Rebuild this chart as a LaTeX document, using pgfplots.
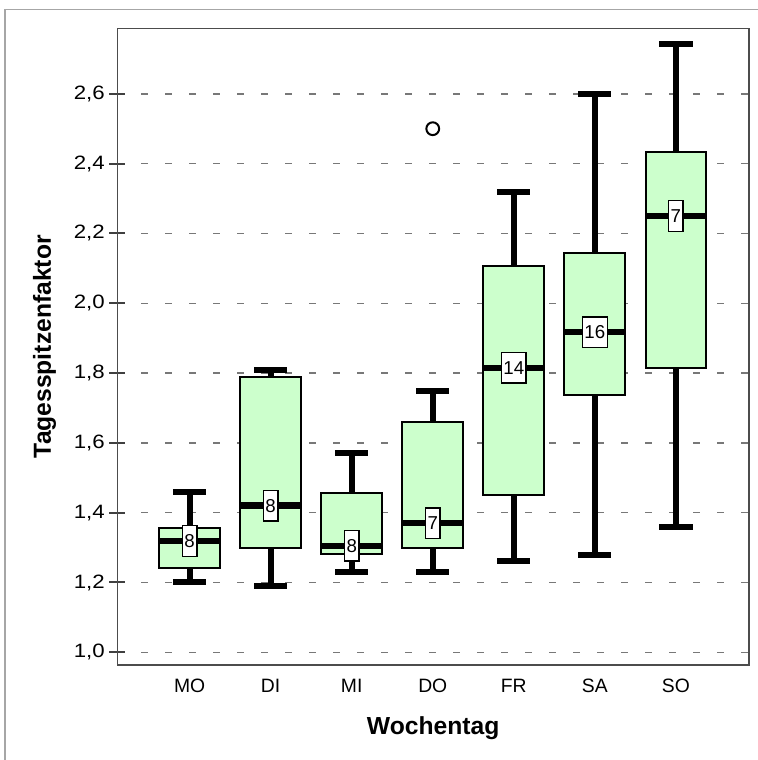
\documentclass[border=0pt]{standalone}
\usepackage{fontspec}
\setmainfont{Liberation Sans}
\newfontfamily\ytfont[FakeStretch=1.15]{Liberation Sans}
\usepackage{pgfplots}
\pgfplotsset{compat=1.18}
\usepgfplotslibrary{statistics}
\definecolor{boxgreen}{RGB}{204,255,204}
\definecolor{gridgray}{RGB}{120,120,120}
\pgfplotstableread{
x   y      n
0   1.319  8
1   1.420  8
2   1.305  8
3   1.370  7
4   1.815  14
5   1.917  16
6   2.250  7
}\counts
\begin{document}
\begin{tikzpicture}
\path[use as bounding box] (-88.1pt,-71.25pt) rectangle (480.35pt,498.8pt);
\draw[black!35, line width=1.1pt] (-84.4pt,-72pt) -- (-84.4pt,491.7pt) -- (482pt,491.7pt);
\begin{axis}[
  scale only axis, width=473.6pt, height=477.4pt,
  xmin=-0.89, xmax=6.90, ymin=0.9636, ymax=2.787,
  xtick={0,1,2,3,4,5,6}, xticklabels={MO,DI,MI,DO,FR,SA,SO},
  ytick={1,1.2,1.4,1.6,1.8,2,2.2,2.4,2.6},
  ymajorgrids,
  grid style={gridgray, line width=1.1pt, dash pattern=on 5.25pt off 12.75pt},
  axis line style={black!70, line width=1.2pt},
  ytick pos=left, tick align=center, major tick length=12pt,
  ytick style={black!75, line width=1.5pt},
  xtick style={draw=none},
  /pgf/number format/assume math mode=true,
  yticklabel style={/pgf/number format/fixed, /pgf/number format/fixed zerofill, /pgf/number format/precision=1, /pgf/number format/use comma},
  xticklabel style={font=\fontsize{14.5}{17}\selectfont},
  yticklabel style={font=\ytfont\fontsize{14.5}{17}\selectfont},
  yticklabel style={anchor=east, inner sep=0pt, xshift=-3.4pt},
  xticklabel style={anchor=base, yshift=-14.5pt},
  label style={font=\bfseries\fontsize{18.5}{22}\selectfont},
  xlabel={Wochentag}, ylabel={Tagesspitzenfaktor},
  xlabel style={at={(axis description cs:0.5,-0.1)}, anchor=center},
  ylabel style={at={(axis description cs:-0.1153,0.5)}, anchor=center},
  boxplot/draw direction=y,
  boxplot/box extend=0.75,
  boxplot/whisker extend=0.41,
  boxplot/every box/.style={draw=black, fill=boxgreen, line width=1.5pt},
  boxplot/every whisker/.style={draw=black, line width=4.5pt},
  boxplot/every median/.style={draw=black, line width=4.8pt},
]
\addplot[boxplot prepared={draw position=0, lower whisker=1.200, lower quartile=1.241, median=1.319, upper quartile=1.355, upper whisker=1.460}] coordinates {};
\addplot[boxplot prepared={draw position=1, lower whisker=1.191, lower quartile=1.300, median=1.420, upper quartile=1.788, upper whisker=1.809}] coordinates {};
\addplot[boxplot prepared={draw position=2, lower whisker=1.229, lower quartile=1.282, median=1.305, upper quartile=1.457, upper whisker=1.572}] coordinates {};
\addplot[boxplot prepared={draw position=3, lower whisker=1.231, lower quartile=1.300, median=1.370, upper quartile=1.659, upper whisker=1.750}] coordinates {};
\addplot[boxplot prepared={draw position=4, lower whisker=1.262, lower quartile=1.451, median=1.815, upper quartile=2.108, upper whisker=2.320}] coordinates {};
\addplot[boxplot prepared={draw position=5, lower whisker=1.279, lower quartile=1.737, median=1.917, upper quartile=2.143, upper whisker=2.600}] coordinates {};
\addplot[boxplot prepared={draw position=6, lower whisker=1.358, lower quartile=1.814, median=2.250, upper quartile=2.434, upper whisker=2.742}] coordinates {};
\addplot[only marks, mark=o, mark size=4.8pt, mark options={draw=black, line width=1.5pt}] coordinates {(3,2.50)};
\addplot[draw=none, mark=none, nodes near coords, point meta=explicit symbolic,
  every node near coord/.append style={anchor=center, fill=white, draw=black, line width=1.1pt,
    inner xsep=1.5pt, inner ysep=0pt, minimum height=23pt, font=\fontsize{14}{16}\selectfont}]
  table[x=x, y=y, meta=n] {\counts};
\end{axis}
\end{tikzpicture}
\end{document}
